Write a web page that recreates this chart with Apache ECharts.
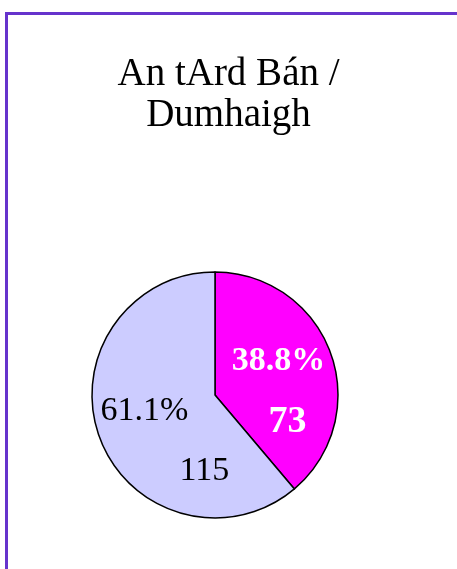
<!DOCTYPE html>
<html>
<head>
<meta charset="utf-8">
<script src="https://cdn.jsdelivr.net/npm/echarts@6/dist/echarts.min.js"></script>
<style>
  html, body { margin: 0; padding: 0; background: #fff; }
  #chart { width: 457px; height: 569px; }
  #frame {
    position: absolute; left: 5px; top: 12px; right: 0; bottom: 0;
    border-left: 3px solid #6633cc; border-top: 3px solid #6633cc;
    pointer-events: none;
  }
</style>
</head>
<body>
<div id="chart"></div>
<div id="frame"></div>
<script>
// data
var titleText = 'An tArd Bán /\nDumhaigh';
var names = ['A', 'B'];
var counts = [73, 115];
var percents = ['38.8%', '61.1%'];
var colors = ['#ff00ff', '#ccccff'];
var textColors = ['#ffffff', '#000000'];
var pctOffsets = [[3, -12], [-10, -6]];
var valOffsets = [[12, 49], [50, 54]];

var myChart = echarts.init(document.getElementById('chart'));

function slices(kind) {
    var res = [];
    for (var i = 0; i < counts.length; i++) {
        var bold = textColors[i] === '#ffffff';
        res.push({
            name: names[i],
            value: counts[i],
            itemStyle: { color: kind === 'pct' ? colors[i] : 'transparent' },
            label: {
                show: true,
                position: 'inside',
                formatter: kind === 'pct' ? percents[i] : String(counts[i]),
                offset: kind === 'pct' ? pctOffsets[i] : valOffsets[i],
                color: textColors[i],
                fontFamily: 'Liberation Serif',
                fontWeight: bold ? 'bold' : 'normal',
                fontSize: (bold && kind === 'val') ? 38 : 34
            }
        });
    }
    return res;
}

var option = {
    animation: false,
    title: {
        text: titleText,
        left: 'center',
        top: 49,
        textStyle: {
            fontFamily: 'Liberation Serif',
            fontWeight: 'normal',
            fontSize: 39,
            lineHeight: 41,
            color: '#000'
        }
    },
    series: [
        {
            type: 'pie',
            center: [215, 395],
            radius: [0, 123],
            startAngle: 90,
            clockwise: true,
            silent: true,
            itemStyle: { borderColor: '#000', borderWidth: 1.5 },
            labelLine: { show: false },
            data: slices('pct')
        },
        {
            type: 'pie',
            center: [215, 395],
            radius: [0, 123],
            startAngle: 90,
            clockwise: true,
            silent: true,
            itemStyle: { borderWidth: 0 },
            labelLine: { show: false },
            data: slices('val')
        }
    ]
};

myChart.setOption(option);
</script>
</body>
</html>
